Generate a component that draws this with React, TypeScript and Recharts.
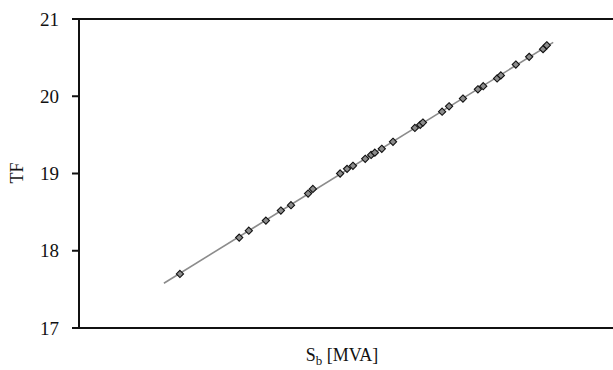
import React from 'react'
import { ScatterChart, Scatter, XAxis, YAxis, ReferenceLine, Label } from 'recharts'

// S_b (arbitrary scale, axis has no tick labels) and TF
const sbValues = [
  18.9, 30.0, 31.8, 35.0, 37.8, 39.7, 42.9, 43.8, 48.9, 50.2, 51.3, 53.6, 54.7, 55.4, 56.7,
  58.8, 62.9, 63.9, 64.4, 68.0, 69.3, 71.9, 74.7, 75.7, 78.3, 79.0, 81.8, 84.3, 86.9, 87.6,
]
const tfValues = [
  17.7, 18.17, 18.26, 18.39, 18.52, 18.59, 18.74, 18.8, 19.0, 19.06, 19.1, 19.19, 19.24, 19.27, 19.32,
  19.41, 19.59, 19.63, 19.66, 19.8, 19.87, 19.97, 20.09, 20.13, 20.23, 20.27, 20.41, 20.51, 20.61, 20.66,
]
const yTicks = [17, 18, 19, 20, 21]
const trendFrom = 15.9
const trendTo = 88.8

const points = sbValues.map((x, i) => ({ x, y: tfValues[i] }))

// least squares linear trendline, extended like the spreadsheet one
const n = points.length
const mx = sbValues.reduce((a, b) => a + b, 0) / n
const my = tfValues.reduce((a, b) => a + b, 0) / n
const slope =
  points.reduce((s, p) => s + (p.x - mx) * (p.y - my), 0) /
  points.reduce((s, p) => s + (p.x - mx) ** 2, 0)
const intercept = my - slope * mx
const trend = [trendFrom, trendTo].map((x) => ({ x, y: intercept + slope * x }))

const FONT = '"Liberation Serif", "DejaVu Serif", serif'

// plot runs off the right edge of the picture, so the chart is wider than the view
const CHART_W = 640
const PLOT_LEFT = 79
const X_MAX = (100 * (CHART_W - PLOT_LEFT)) / (613 - PLOT_LEFT)

const Diamond = (props: any) => {
  const { cx, cy } = props
  if (cx == null || cy == null) return <g />
  const r = 3.6
  return (
    <polygon
      points={`${cx},${cy - r} ${cx + r},${cy} ${cx},${cy + r} ${cx - r},${cy}`}
      fill="#8c8c8c"
      stroke="#111"
      strokeWidth={1.1}
    />
  )
}

const XTitle = () => (
  <text x={342} y={361} textAnchor="middle" fontFamily={FONT} fontSize={18} fill="#111">
    S<tspan fontSize={13} dy={4}>b</tspan>
    <tspan dy={-4}> [MVA]</tspan>
  </text>
)

const YTitle = () => (
  <text
    x={17}
    y={173}
    transform="rotate(-90 17 173)"
    textAnchor="middle"
    dominantBaseline="central"
    fontFamily={FONT}
    fontSize={18}
    fill="#111"
  >
    TF
  </text>
)

export default function App() {
  return (
    <div
      style={{
        position: 'absolute',
        left: 0,
        top: 0,
        width: 613,
        height: 370,
        overflow: 'hidden',
        background: '#fff',
      }}
    >
      <ScatterChart width={CHART_W} height={370} margin={{ top: 19, right: 0, bottom: 0, left: 0 }}>
        <XAxis
          type="number"
          dataKey="x"
          domain={[0, X_MAX]}
          allowDataOverflow
          tick={false}
          tickLine={false}
          axisLine={{ stroke: '#111', strokeWidth: 2 }}
          height={42}
        >
          <Label content={<XTitle />} />
        </XAxis>
        <YAxis
          type="number"
          dataKey="y"
          domain={[17, 21]}
          ticks={yTicks}
          width={PLOT_LEFT}
          tickSize={7}
          tickMargin={13}
          tickLine={{ stroke: '#111', strokeWidth: 2 }}
          axisLine={{ stroke: '#111', strokeWidth: 2 }}
          tick={{ fill: '#111', fontSize: 19, fontFamily: FONT }}
        >
          <Label content={<YTitle />} />
        </YAxis>
        <ReferenceLine y={21} stroke="#111" strokeWidth={2} />
        <Scatter
          data={trend}
          line={{ stroke: '#8c8c8c', strokeWidth: 1.6 }}
          shape={() => <g />}
          isAnimationActive={false}
        />
        <Scatter data={points} shape={<Diamond />} isAnimationActive={false} />
      </ScatterChart>
    </div>
  )
}
